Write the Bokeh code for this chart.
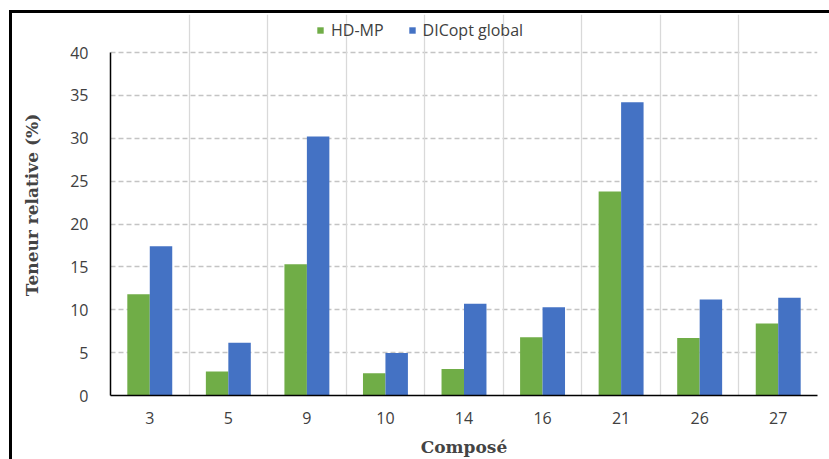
from bokeh.plotting import figure
from bokeh.models import (Range1d, FixedTicker, Grid, Legend, LegendItem,
                          ColumnDataSource, InlineStyleSheet)
from bokeh.transform import dodge
from bokeh.embed import file_html
from bokeh.resources import INLINE

categories = ["3", "5", "9", "10", "14", "16", "21", "26", "27"]
hd_mp = [11.8, 2.8, 15.3, 2.6, 3.1, 6.8, 23.8, 6.7, 8.4]
dicopt_global = [17.4, 6.15, 30.2, 4.95, 10.7, 10.3, 34.2, 11.2, 11.4]
y_ticks = [0, 5, 10, 15, 20, 25, 30, 35, 40]

pos = list(range(1, len(categories) + 1))
src = ColumnDataSource(dict(x=pos, hd=hd_mp, dc=dicopt_global))

# layout: plot area 0..40 spans 343 px; extra headroom inside the frame holds the legend
Y_MAX = 40
FRAME_TOP, AXIS_TOP, AXIS_BOTTOM = 14, 52, 395
y_end = Y_MAX * (AXIS_BOTTOM - FRAME_TOP) / (AXIS_BOTTOM - AXIS_TOP)

p = figure(width=829, height=459, output_backend="svg", toolbar_location=None,
           x_range=Range1d(0.5, len(categories) + 0.5), y_range=Range1d(0, y_end),
           min_border_left=110, min_border_right=12, min_border_top=FRAME_TOP,
           min_border_bottom=459 - AXIS_BOTTOM)
p.stylesheets = [InlineStyleSheet(css=":host { box-shadow: inset 9px 10px 0 0 white, inset 12px 13px 0 0 black; }")]
p.outline_line_color = None
p.background_fill_color = "white"
p.border_fill_color = None

w = 0.286
r1 = p.vbar(x=dodge("x", -w / 2, range=p.x_range), top="hd", width=w, source=src,
            fill_color="#70ad47", line_color=None)
r2 = p.vbar(x=dodge("x", w / 2, range=p.x_range), top="dc", width=w, source=src,
            fill_color="#4472c4", line_color=None)

# grids
p.xgrid.visible = False
p.ygrid.ticker = FixedTicker(ticks=y_ticks[1:])
p.ygrid.grid_line_color = "#c4c4c4"
p.ygrid.grid_line_dash = "5 3"
p.ygrid.grid_line_width = 1.6
vgrid = Grid(dimension=0, ticker=FixedTicker(ticks=[i + 0.5 for i in pos]),
             grid_line_color="#d9d9d9", grid_line_width=1.3, bounds=(0, Y_MAX))
p.add_layout(vgrid)

tick_font = "Open Sans"
# x axis
p.xaxis.ticker = FixedTicker(ticks=pos)
p.xaxis.major_label_overrides = {i: c for i, c in zip(pos, categories)}
p.xaxis.major_tick_line_color = None
p.xaxis.minor_tick_line_color = None
p.xaxis.axis_line_color = "black"
p.xaxis.axis_line_width = 1.5
p.xaxis.major_label_text_font = tick_font
p.xaxis.major_label_text_font_size = "16px"
p.xaxis.major_label_text_color = "#404040"
p.xaxis.major_label_standoff = 10
p.xaxis.axis_label = "Composé"
p.xaxis.axis_label_text_font = "DejaVu Serif"
p.xaxis.axis_label_text_font_style = "bold"
p.xaxis.axis_label_text_font_size = "17px"
p.xaxis.axis_label_standoff = 10

# y axis
p.yaxis.ticker = FixedTicker(ticks=y_ticks)
p.yaxis.bounds = (0, Y_MAX)
p.yaxis.major_tick_line_color = None
p.yaxis.minor_tick_line_color = None
p.yaxis.axis_line_color = "black"
p.yaxis.axis_line_width = 1.5
p.yaxis.major_label_text_font = tick_font
p.yaxis.major_label_text_font_size = "16px"
p.yaxis.major_label_text_color = "#404040"
p.yaxis.major_label_standoff = 16
p.yaxis.axis_label = "Teneur relative (%)"
p.yaxis.axis_label_text_font = "DejaVu Serif"
p.yaxis.axis_label_text_font_style = "bold"
p.yaxis.axis_label_text_font_size = "17px"
p.yaxis.axis_label_standoff = 25

legend = Legend(items=[LegendItem(label="HD-MP", renderers=[r1]),
                       LegendItem(label="DICopt global", renderers=[r2])],
                orientation="horizontal", location=(206, AXIS_BOTTOM - 41),
                glyph_width=8, glyph_height=8, spacing=24,
                label_text_font=tick_font, label_text_font_size="16px",
                label_text_color="#404040", background_fill_alpha=0,
                border_line_color=None, padding=0, margin=0, label_standoff=7)
p.add_layout(legend, "center")

open("out.html", "w").write(file_html(p, INLINE))
